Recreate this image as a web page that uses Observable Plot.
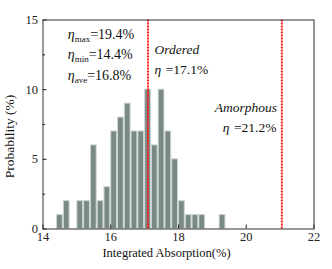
<!DOCTYPE html>
<html>
<head>
<meta charset="utf-8">
<script src="https://cdn.jsdelivr.net/npm/d3@7"></script>
<script src="https://cdn.jsdelivr.net/npm/@observablehq/plot@0.6"></script>
<style>
  html, body { margin: 0; padding: 0; background: #fff; }
  #chart svg { display: block; }
</style>
</head>
<body>
<div id="chart"></div>
<script>
// Histogram bins (start of each 0.2-wide bin, %) and probability (%)
const binStarts = [14.4, 14.6, 14.8, 15.0, 15.2, 15.4, 15.6, 15.8, 16.0, 16.2, 16.4, 16.6, 16.8,
                   17.0, 17.2, 17.4, 17.6, 17.8, 18.0, 18.2, 18.4, 18.6, 18.8, 19.0, 19.2];
const probability = [1, 2, 0, 2, 2, 6, 2, 3, 7, 8, 9, 7, 7,
                     10, 6, 10, 7, 5, 2, 1, 1, 1, 0, 0, 1];
const binWidth = 0.2;

// Reference lines (ordered / amorphous)
const refLines = [17.1, 21.05];

// Ticks
const xTicks = [14, 16, 18, 20, 22];
const yTicks = [0, 5, 10, 15];
const yMinorTicks = [2.5, 7.5, 12.5];

// Annotations: text (| separates subscript), anchor position in data units
const statLabels = ["η|max|=19.4%", "η|min|=14.4%", "η|ave|=16.8%"];
const statX = [14.73, 14.73, 14.73];
const statY = [13.65, 12.22, 10.66];

const orderedLabels = ["Ordered", "η|\u2002|=17.1%"];
const orderedX = [17.29, 17.29];
const orderedY = [12.58, 11.14];

const amorphLabels = ["Amorphous", "η|\u2002|=21.2%"];
const amorphX = [20.91, 20.89];
const amorphY = [8.38, 6.95];

const bars = binStarts.map((b, i) => ({x1: b, x2: b + binWidth, y: probability[i]})).filter(d => d.y > 0);
const stats = statLabels.map((t, i) => ({t, x: statX[i], y: statY[i]}));
const ordered = orderedLabels.map((t, i) => ({t, x: orderedX[i], y: orderedY[i]}));
const amorph = amorphLabels.map((t, i) => ({t, x: amorphX[i], y: amorphY[i]}));

const chart = Plot.plot({
  width: 332,
  height: 269,
  marginLeft: 42.5,
  marginRight: 18.5,
  marginTop: 19.5,
  marginBottom: 40.5,
  style: {fontFamily: "'Liberation Serif', 'Times New Roman', serif", fontSize: "12.5px", color: "#222", background: "#fff"},
  x: {domain: [14, 22]},
  y: {domain: [0, 15]},
  marks: [
    Plot.rectY(bars, {x1: "x1", x2: "x2", y: "y", fill: "#788986", stroke: "#cdd6d4", strokeWidth: 1, insetLeft: 0.5, insetRight: 0.5}),
    Plot.ruleX(refLines, {stroke: "#ff1a1a", strokeWidth: 2, strokeDasharray: "2,1"}),
    Plot.frame({stroke: "#333", strokeWidth: 1}),
    Plot.axisX({ticks: xTicks, tickSize: -4, tickPadding: 7, label: null, tickFormat: d => d}),
    Plot.axisY({ticks: yTicks, tickSize: -4, tickPadding: 9, label: null, tickFormat: d => d}),
    Plot.axisY({ticks: yMinorTicks, tickSize: -2.5, label: null, tickFormat: () => ""}),
    Plot.text(stats, {x: "x", y: "y", text: "t", textAnchor: "start", lineAnchor: "bottom", fontSize: 14, fill: "#111"}),
    Plot.text(ordered, {x: "x", y: "y", text: "t", textAnchor: "start", lineAnchor: "bottom", fontSize: 13.5, fill: "#111"}),
    Plot.text(amorph, {x: "x", y: "y", text: "t", textAnchor: "end", lineAnchor: "bottom", fontSize: 13.5, fill: "#111"}),
    Plot.text(["Integrated Absorption(%)"], {frameAnchor: "bottom", textAnchor: "middle", lineAnchor: "bottom", dx: -12, dy: 28, fontSize: 12.5, fill: "#111"}),
    Plot.text(["Probability (%)"], {frameAnchor: "left", textAnchor: "middle", lineAnchor: "middle", rotate: -90, dx: -33, dy: 12, fontSize: 13.5, fill: "#111"})
  ]
});

// Turn "η|sub|rest" into tspans with italic eta and subscript
d3.select(chart).selectAll("text").each(function () {
  const el = d3.select(this);
  const s = el.text();
  if (s.indexOf("|") >= 0) {
    const [eta, sub, rest] = s.split("|");
    el.text("");
    el.append("tspan").attr("font-style", "italic").text(eta);
    el.append("tspan").attr("font-size", "9px").attr("dy", "3").text(sub);
    el.append("tspan").attr("dy", "-3").text(rest);
  } else if (s === "Ordered" || s === "Amorphous") {
    el.attr("font-style", "italic");
  }
});

document.getElementById("chart").append(chart);
</script>
</body>
</html>
